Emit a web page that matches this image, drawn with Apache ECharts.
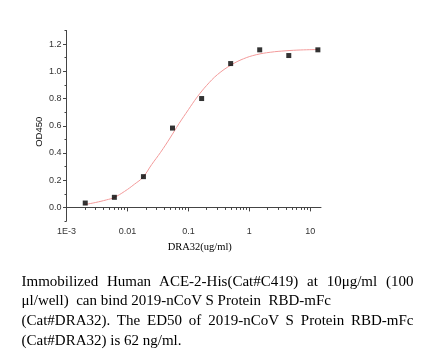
<!DOCTYPE html>
<html>
<head>
<meta charset="utf-8">
<script src="https://cdn.jsdelivr.net/npm/echarts@6/dist/echarts.min.js"></script>
<style>
  html, body { margin: 0; padding: 0; background: #fff; }
  #chart { position: absolute; left: 0; top: 0; width: 434px; height: 358px; }
  #caption { position: absolute; left: 21.5px; top: 271.5px; width: 392px;
    font-family: "Liberation Serif", "Times New Roman", serif; font-size: 15px; color: #000; }
  #caption div { line-height: 19.7px; height: 19.7px; white-space: pre; }
  #caption .j { text-align: justify; text-align-last: justify; white-space: normal; }
</style>
</head>
<body>
<div id="chart"></div>
<div id="caption">
  <div class="j">Immobilized Human ACE-2-His(Cat#C419) at 10μg/ml (100</div>
  <div>μl/well)  can bind 2019-nCoV S Protein  RBD-mFc</div>
  <div class="j">(Cat#DRA32). The ED50 of 2019-nCoV S Protein RBD-mFc</div>
  <div>(Cat#DRA32) is 62 ng/ml.</div>
</div>
<script>
// measured points (DRA32 concentration, ug/ml) and OD450
const concentrations = [0.00203, 0.0061, 0.0183, 0.0549, 0.165, 0.494, 1.48, 4.44, 13.33];
const od450 = [0.032, 0.074, 0.226, 0.583, 0.800, 1.057, 1.158, 1.116, 1.158];
// fitted curve
const fitConc = [0.002, 0.003, 0.0045, 0.006, 0.009, 0.013, 0.018, 0.025, 0.035, 0.05, 0.07, 0.1, 0.14, 0.2, 0.3, 0.5, 0.8, 1.3, 2.2, 4, 7, 13.33];
const fitOD = [0.021, 0.036, 0.055, 0.072, 0.118, 0.170, 0.222, 0.315, 0.405, 0.510, 0.615, 0.718, 0.812, 0.897, 0.976, 1.046, 1.092, 1.122, 1.140, 1.151, 1.157, 1.160];
// axis ticks
const xMajorTicks = [0.001, 0.01, 0.1, 1, 10];
const xTickLabels = ['1E-3', '0.01', '0.1', '1', '10'];
const xMinorTicks = [0.002,0.003,0.004,0.005,0.006,0.007,0.008,0.009,
  0.02,0.03,0.04,0.05,0.06,0.07,0.08,0.09,
  0.2,0.3,0.4,0.5,0.6,0.7,0.8,0.9,
  2,3,4,5,6,7,8,9];
const yMajorTicks = [0, 0.2, 0.4, 0.6, 0.8, 1.0, 1.2];
const yTickLabels = ['0.0', '0.2', '0.4', '0.6', '0.8', '1.0', '1.2'];
const yMinorTicks = [-0.1, 0.1, 0.3, 0.5, 0.7, 0.9, 1.1, 1.3];

const chart = echarts.init(document.getElementById('chart'), null, {renderer: 'canvas'});
const axisColor = '#444';
const labelStyle = { fontFamily: 'Liberation Sans, Arial, sans-serif', fontSize: 9, color: '#333' };
const xRange = { min: 0.001, max: 15 };
const yRange = { min: -0.1, max: 1.3 };
chart.setOption({
  animation: false,
  grid: { left: 66.5, top: 30.5, width: 254.5, height: 190.5, containLabel: false },
  xAxis: [
    { type: 'log', logBase: 10, min: xRange.min, max: xRange.max, position: 'bottom',
      name: 'DRA32(ug/ml)', nameLocation: 'middle', nameGap: 21, nameMoveOverlap: false,
      nameTextStyle: { fontFamily: 'Liberation Serif, Times New Roman, serif', fontSize: 10.5, color: '#000', padding: [0, 0, 0, 12] },
      axisLine: { show: true, lineStyle: { color: axisColor, width: 1 } },
      axisTick: { show: true, length: 4, customValues: xMajorTicks, lineStyle: { color: axisColor } },
      axisLabel: Object.assign({ customValues: xMajorTicks, margin: 6,
        formatter: v => { const i = xMajorTicks.findIndex(t => Math.abs(t - v) / t < 1e-6); return i >= 0 ? xTickLabels[i] : ''; } }, labelStyle),
      splitLine: { show: false }, minorTick: { show: false }, minorSplitLine: { show: false } },
    { type: 'log', logBase: 10, min: xRange.min, max: xRange.max, position: 'bottom', offset: 0,
      axisLine: { show: false },
      axisTick: { show: true, length: 2.5, customValues: xMinorTicks, lineStyle: { color: axisColor } },
      axisLabel: { show: false }, splitLine: { show: false } }
  ],
  yAxis: [
    { type: 'value', min: yRange.min, max: yRange.max, position: 'left',
      name: 'OD450', nameLocation: 'middle', nameGap: 22, nameRotate: 90, nameMoveOverlap: false,
      nameTextStyle: { fontFamily: 'Liberation Sans, Arial, sans-serif', fontSize: 9.5, color: '#111', padding: [0, 12, 0, 0] },
      axisLine: { show: true, lineStyle: { color: axisColor, width: 1 } },
      axisTick: { show: true, length: 3.5, customValues: yMajorTicks, lineStyle: { color: axisColor } },
      axisLabel: Object.assign({ customValues: yMajorTicks, margin: 5,
        formatter: v => { const i = yMajorTicks.findIndex(t => Math.abs(t - v) < 1e-6); return i >= 0 ? yTickLabels[i] : ''; } }, labelStyle),
      splitLine: { show: false } },
    { type: 'value', min: yRange.min, max: yRange.max, position: 'left', offset: 0,
      axisLine: { show: false },
      axisTick: { show: true, length: 2, customValues: yMinorTicks, lineStyle: { color: axisColor } },
      axisLabel: { show: false }, splitLine: { show: false } }
  ],
  series: [
    { type: 'line', xAxisIndex: 0, yAxisIndex: 0, smooth: 0.4, symbol: 'none', z: 2,
      lineStyle: { color: '#f39a9a', width: 1 },
      data: fitConc.map((c, i) => [c, fitOD[i]]) },
    { type: 'scatter', xAxisIndex: 0, yAxisIndex: 0, symbol: 'rect', symbolSize: 5, z: 3,
      itemStyle: { color: '#000' },
      data: concentrations.map((c, i) => [c, od450[i]]) }
  ]
});
</script>
</body>
</html>
